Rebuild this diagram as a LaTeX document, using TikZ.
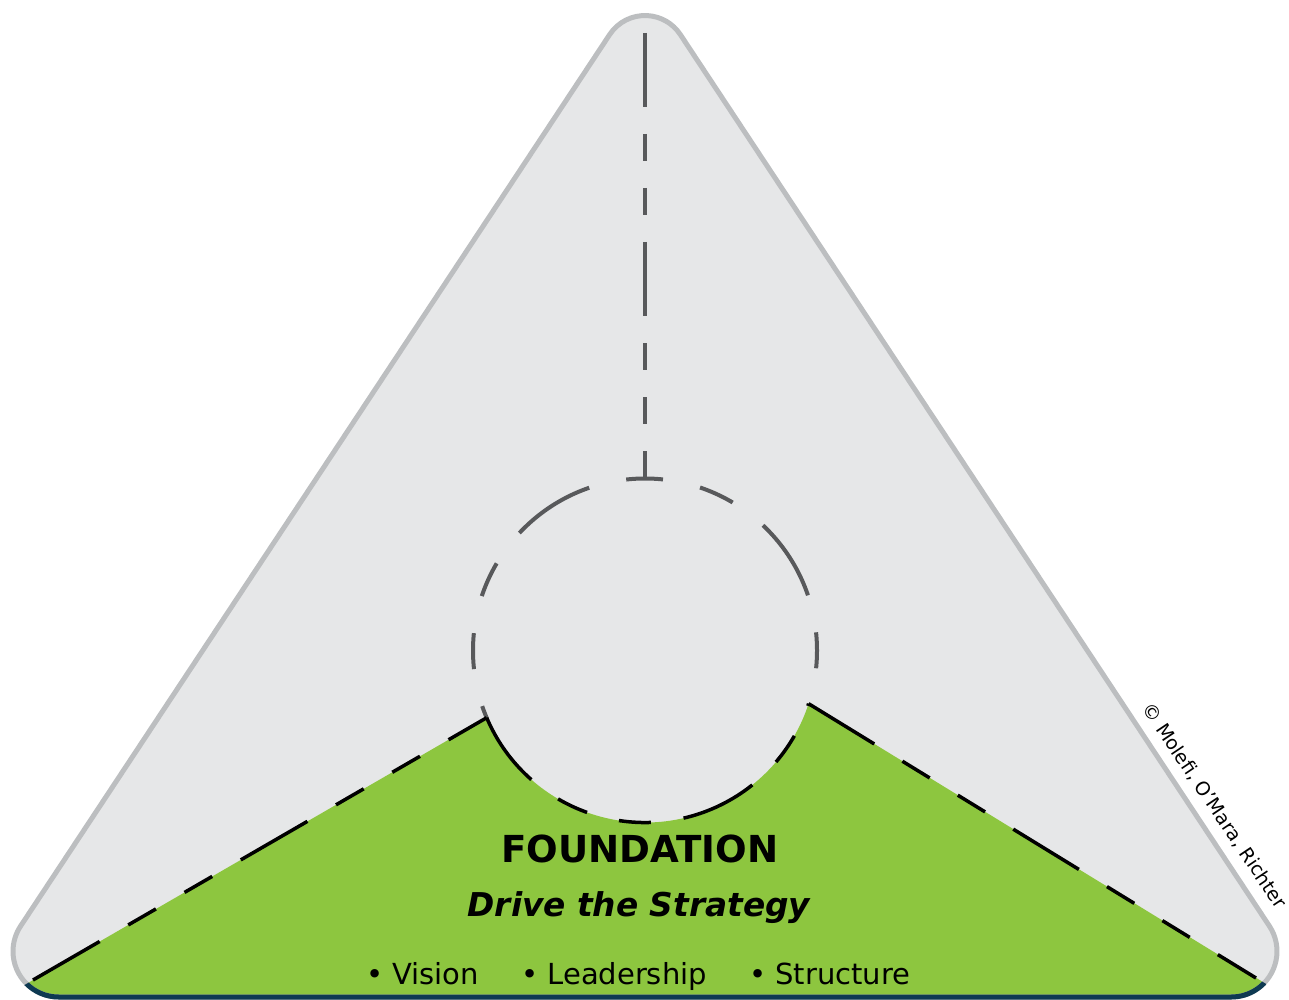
\documentclass[tikz,border=0pt]{standalone}
\usepackage{fontspec}
\setmainfont{DejaVu Sans}
\definecolor{bgfill}{HTML}{E6E7E8}
\definecolor{rim}{HTML}{BCBEC0}
\definecolor{dashgray}{HTML}{58595B}
\definecolor{leaf}{HTML}{8DC63F}
\definecolor{navy}{HTML}{0E3A52}
\begin{document}
\begin{tikzpicture}[x=1pt,y=-1pt,
  rimline/.style={draw=rim,line width=5pt,line join=round},
  navyline/.style={draw=navy,line width=5pt,line join=round},
  greydash/.style={draw=dashgray,line width=4pt},
  circdash/.style={greydash,dash pattern=on 36pt off 38pt on 36pt off 38pt on 84pt off 38pt,dash phase=18pt},
  axisdash/.style={greydash,dash pattern=on 74pt off 27pt on 27pt off 27pt on 27pt off 27pt},
  blackdash/.style={draw=black,line width=3.5pt,dash pattern=on 77pt off 33pt on 32pt off 33pt on 32pt off 33pt},
  txt/.style={inner sep=0pt,text=black}
]
\useasboundingbox (0,0) rectangle (1289,1000);
% coordinates
\coordinate (c) at (645,650.5);
\coordinate (top) at (645,478.5);
\coordinate (axtop) at (645,33);
\coordinate (pl) at (486.7,717.7);
\coordinate (pr) at (808.6,703.7);
\coordinate (l0) at (33,980);
\coordinate (r0) at (1256,978);
\coordinate (el) at (-100,1057);
\coordinate (er) at (1400,1066);
% triangle body
\fill[bgfill] (609.7,34.5) arc[start angle=213.46,end angle=326.54,radius=42.3]
  -- (1269.4,926.1) arc[start angle=-33.46,end angle=90,radius=45.7]
  -- (58.7,997) arc[start angle=90,end angle=213.46,radius=45.7] -- cycle;
% grey dashed circle (upper part) and axis
\begin{scope}
  \clip (-100,-100) -- (1400,-100) -- (er) -- (pr) -- (pl) -- (el) -- cycle;
  \draw[circdash] (top) arc[start angle=270,end angle=630,radius=172];
\end{scope}
\draw[axisdash] (axtop) -- (top);
% green foundation
\begin{scope}
  \clip (609.7,34.5) arc[start angle=213.46,end angle=326.54,radius=42.3]
    -- (1269.4,926.1) arc[start angle=-33.46,end angle=90,radius=45.7]
    -- (58.7,997) arc[start angle=90,end angle=213.46,radius=45.7] -- cycle;
  \fill[leaf] (el) -- (pl) arc[start angle=157,end angle=18,radius=172] -- (er)
    -- (1400,1100) -- (-100,1100) -- cycle;
\end{scope}
% outline
\draw[rimline] (609.7,34.5) arc[start angle=213.46,end angle=326.54,radius=42.3]
  -- (1269.4,926.1) arc[start angle=-33.46,end angle=90,radius=45.7]
  -- (58.7,997) arc[start angle=90,end angle=213.46,radius=45.7] -- cycle;
\begin{scope}
  \clip (el) -- (pl) arc[start angle=157,end angle=18,radius=172] -- (er)
    -- (1400,1100) -- (-100,1100) -- cycle;
  \draw[navyline] (609.7,34.5) arc[start angle=213.46,end angle=326.54,radius=42.3]
    -- (1269.4,926.1) arc[start angle=-33.46,end angle=90,radius=45.7]
    -- (58.7,997) arc[start angle=90,end angle=213.46,radius=45.7] -- cycle;
\end{scope}
% black dashed borders of the foundation
\draw[blackdash] (l0) -- (pl);
\draw[blackdash] (pl) arc[start angle=157,end angle=18,radius=172];
\draw[blackdash] (pr) -- (r0);
% texts
\node[txt,anchor=base,font=\fontsize{37.2}{42}\selectfont\bfseries] (title) at (640,862.3) {FOUNDATION};
\node[txt,anchor=base,font=\fontsize{32.8}{38}\selectfont\bfseries\itshape] (sub) at (639,916) {Drive the Strategy};
\node[txt,anchor=base west,font=\fontsize{29}{33}\selectfont] (vision) at (366,984.3) {• Vision};
\node[txt,anchor=base west,font=\fontsize{29}{33}\selectfont] (lead) at (521,984.3) {• Leadership};
\node[txt,anchor=base west,font=\fontsize{29}{33}\selectfont] (struct) at (749,984.3) {• Structure};
\node[txt,anchor=base,rotate=-56.1,font=\fontsize{19}{22}\selectfont] (copy) at (1209,809) {© Molefi, O'Mara, Richter};
\end{tikzpicture}
\end{document}
